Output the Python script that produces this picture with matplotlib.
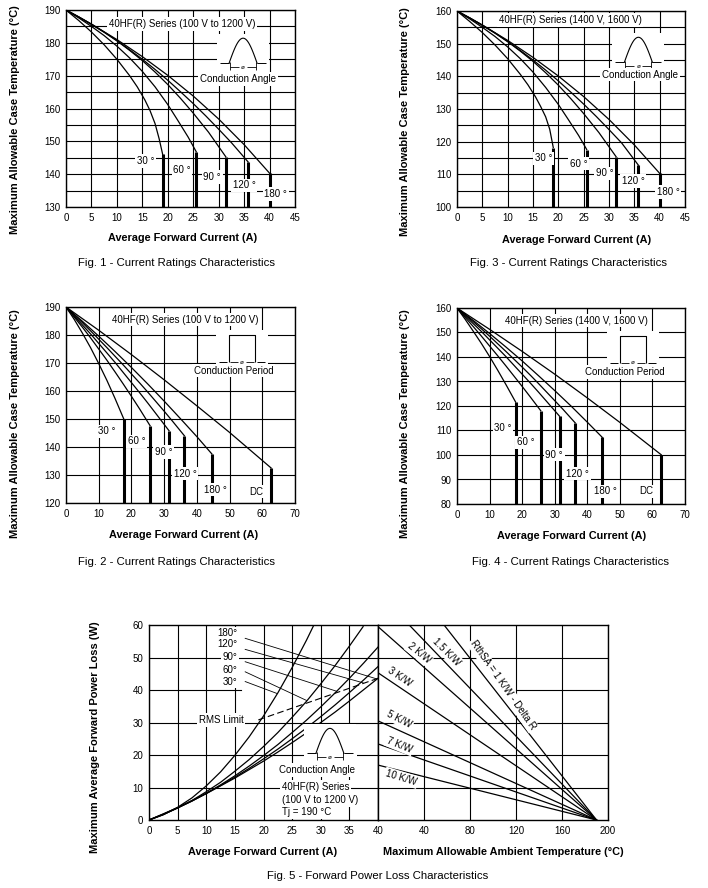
import numpy as np
import matplotlib.pyplot as plt
from matplotlib.patches import Rectangle

plt.rcParams['font.family'] = ['Liberation Sans', 'DejaVu Sans']

W, H = 708, 888

# ---- Fig. 1 : 40HF(R) 100 V to 1200 V, conduction angle ----
angle_names = ['30 °', '60 °', '90 °', '120 °', '180 °']
fig1_current = [
    [0, 2.5, 5, 7.5, 10, 12.5, 14, 15.5, 16.5, 17.5, 18.3, 19.0],
    [0, 2.5, 5, 7.5, 10, 12.5, 15, 17.5, 20, 22, 24, 25.6],
    [0, 2.5, 5, 7.5, 10, 12.5, 15, 17.5, 20, 22.5, 25, 28, 31.4],
    [0, 2.5, 5, 7.5, 10, 12.5, 15, 17.5, 20, 22.5, 25, 27.5, 30, 32.5, 35.8],
    [0, 5, 10, 15, 20, 25, 30, 35, 40],
]
fig1_temp = [
    [190, 186.8, 183.3, 179.4, 175, 170, 166.6, 162.6, 159.4, 155.4, 150.8, 146.0],
    [190, 187.6, 185, 182.2, 179, 175.4, 171.3, 166.6, 161.2, 156.3, 151.3, 146.8],
    [190, 187.9, 185.6, 183.2, 180.6, 177.7, 174.6, 171.1, 167.3, 163.1, 158.6, 152.8, 145.3],
    [190, 187.9, 185.7, 183.3, 180.7, 177.9, 175, 171.9, 168.6, 165.1, 161.5, 157.7, 153.7, 149.6, 143.7],
    [190, 185.7, 181, 175.8, 170.1, 163.8, 156.8, 149, 140.3],
]

# ---- Fig. 3 : 40HF(R) 1400 V, 1600 V, conduction angle ----
fig3_current = fig1_current
fig3_temp = [
    [160, 156.8, 153.4, 149.6, 145.4, 140.6, 137.4, 133.7, 130.8, 127.6, 123.8, 118.2],
    [160, 157.6, 155, 152.2, 149, 145.4, 141.3, 136.6, 131.4, 126.7, 121.9, 117.6],
    [160, 157.9, 155.6, 153.2, 150.6, 147.7, 144.6, 141.1, 137.3, 133.1, 128.6, 122.8, 115.4],
    [160, 157.9, 155.7, 153.3, 150.7, 147.9, 145, 141.9, 138.6, 135.1, 131.5, 127.7, 123.7, 119.6, 112.8],
    [160, 155.7, 151, 145.8, 140.1, 133.8, 126.8, 119, 110.3],
]

# ---- Fig. 2 : 40HF(R) 100 V to 1200 V, conduction period ----
period_names = ['30 °', '60 °', '90 °', '120 °', '180 °', 'DC']
fig2_current = [
    [0, 2.5, 5, 7.5, 10, 12.5, 15, 17.7],
    [0, 2.5, 5, 7.5, 10, 12.5, 15, 17.5, 20, 22.5, 25.7],
    [0, 2.5, 5, 7.5, 10, 12.5, 15, 17.5, 20, 22.5, 25, 27.5, 31.5],
    [0, 2.5, 5, 7.5, 10, 12.5, 15, 17.5, 20, 22.5, 25, 27.5, 30, 32.5, 36.2],
    [0, 5, 10, 15, 20, 25, 30, 35, 40, 44.6],
    [0, 10, 20, 30, 40, 50, 62.7],
]
fig2_temp = [
    [190, 185.6, 180.7, 175.5, 169.8, 163.8, 157.3, 149.9],
    [190, 186.4, 182.8, 179.0, 175.0, 171.0, 166.8, 162.5, 158.1, 153.6, 147.6],
    [190, 186.8, 183.6, 180.4, 177.0, 173.6, 170.2, 166.6, 163.0, 159.4, 155.7, 151.9, 145.8],
    [190, 187.2, 184.4, 181.5, 178.5, 175.5, 172.4, 169.3, 166.1, 162.9, 159.6, 156.2, 152.8, 149.3, 144.0],
    [190, 184.9, 179.6, 174.1, 168.4, 162.5, 156.4, 150.1, 143.7, 137.5],
    [190, 181.7, 173.0, 164.0, 154.7, 145.2, 132.5],
]

# ---- Fig. 4 : 40HF(R) 1400 V, 1600 V, conduction period ----
fig4_current = [
    [0, 2.5, 5, 7.5, 10, 12.5, 15, 18.0],
    [0, 2.5, 5, 7.5, 10, 12.5, 15, 17.5, 20, 22.5, 25.7],
    [0, 2.5, 5, 7.5, 10, 12.5, 15, 17.5, 20, 22.5, 25, 27.5, 31.5],
    [0, 2.5, 5, 7.5, 10, 12.5, 15, 17.5, 20, 22.5, 25, 27.5, 30, 32.5, 36.3],
    [0, 5, 10, 15, 20, 25, 30, 35, 40, 44.6],
    [0, 10, 20, 30, 40, 50, 62.7],
]
fig4_temp = [
    [160, 155.4, 150.5, 145.5, 140.2, 134.6, 128.8, 121.6],
    [160, 156.2, 152.4, 148.5, 144.5, 140.5, 136.4, 132.2, 128.0, 123.7, 118.1],
    [160, 156.8, 153.6, 150.4, 147.0, 143.6, 140.2, 136.6, 133.0, 129.4, 125.7, 121.9, 115.8],
    [160, 157.2, 154.4, 151.5, 148.5, 145.4, 142.3, 139.1, 135.9, 132.6, 129.2, 125.7, 122.2, 118.7, 113.1],
    [160, 154.9, 149.6, 144.1, 138.4, 132.4, 126.3, 120.0, 113.4, 107.2],
    [160, 151.3, 142.3, 133.0, 123.3, 113.3, 100.1],
]

# ---- Fig. 5 : forward power loss ----
loss_names = ['180°', '120°', '90°', '60°', '30°']
loss_current = [
    [0, 2.5, 5, 7.5, 10, 12.5, 15, 17.5, 20, 22.5, 25, 27.5, 28.8],
    [0, 2.5, 5, 7.5, 10, 12.5, 15, 17.5, 20, 22.5, 25, 27.5, 30, 32.5, 35, 37.4],
    [0, 2.5, 5, 7.5, 10, 12.5, 15, 17.5, 20, 22.5, 25, 27.5, 30, 32.5, 35, 37.5, 40],
    [0, 2.5, 5, 7.5, 10, 12.5, 15, 17.5, 20, 22.5, 25, 27.5, 30, 32.5, 35, 37.5, 40],
    [0, 2.5, 5, 7.5, 10, 12.5, 15, 17.5, 20, 22.5, 25, 27.5, 30, 32.5, 35, 37.5, 40],
]
loss_power = [
    [0, 1.6, 3.9, 6.8, 10.5, 14.8, 19.9, 25.6, 32.0, 39.1, 46.9, 55.3, 60],
    [0, 1.7, 3.7, 6.0, 8.7, 11.6, 15.0, 18.6, 22.6, 26.9, 31.6, 36.5, 41.9, 47.5, 53.5, 59.5],
    [0, 1.7, 3.7, 5.8, 8.2, 10.8, 13.6, 16.6, 19.8, 23.2, 26.9, 30.7, 34.8, 39.1, 43.6, 48.3, 53.2],
    [0, 1.8, 3.8, 5.9, 8.2, 10.6, 13.2, 15.9, 18.8, 21.8, 25.0, 28.3, 31.8, 35.4, 39.2, 43.1, 47.2],
    [0, 1.9, 3.8, 5.9, 8.1, 10.5, 12.9, 15.5, 18.1, 20.9, 23.8, 26.8, 30.0, 33.2, 36.6, 40.1, 43.6],
]
# leader lines from the angle labels to their curves (label end, curve end)
leader_current = [[16.8, 39.8], [16.8, 37.4], [16.8, 32.8], [16.8, 27.5], [16.8, 22.4]]
leader_power = [[55.9, 43.4], [52.5, 42.2], [48.7, 39.6], [45.6, 36.8], [42.6, 38.9]]
rms_current = [19.1, 40.0]
rms_power = [30.8, 43.6]
sink_names = ['RthSA = 1 K/W - Delta R', '1.5 K/W', '2 K/W', '3 K/W', '5 K/W', '7 K/W', '10 K/W']
sink_power_at_0 = [86, 70, 59.5, 45.3, 30.5, 23.4, 16.9]
sink_tj = 190


def px_axes(fig, x0, y0, x1, y1):
    return fig.add_axes([x0 / W, 1 - y1 / H, (x1 - x0) / W, (y1 - y0) / H])


def px_scale(ax):
    pos = ax.get_position()
    x0, x1 = ax.get_xlim()
    y0, y1 = ax.get_ylim()
    return (x1 - x0) / (pos.width * W), (y1 - y0) / (pos.height * H)


def style_axes(ax, xlim, ylim, xticks, yticks):
    ax.set_xlim(*xlim)
    ax.set_ylim(*ylim)
    ax.set_xticks(xticks)
    ax.set_yticks(yticks)
    ax.tick_params(which='both', length=0, labelsize=7, pad=4)
    ax.grid(True, color='black', lw=0.8)
    ax.set_axisbelow(True)
    for s in ax.spines.values():
        s.set_linewidth(1.0)


def note(ax, x, y, s, size=7, **kw):
    kw.setdefault('ha', 'center')
    ax.text(x, y, s, fontsize=size, va='center', zorder=5,
            bbox=dict(fc='white', ec='none', pad=1.2), **kw)


def seg(ax, sx, sy, cx, cy, xs, ys, lw=0.7):
    ax.plot([cx + v * sx for v in xs], [cy + v * sy for v in ys],
            color='black', lw=lw, zorder=5, solid_capstyle='butt')


def sine_icon(ax, cx, cy):
    # cx, cy : middle of the baseline
    sx, sy = px_scale(ax)
    ax.add_patch(Rectangle((cx - 26 * sx, cy - 9 * sy), 52 * sx, 38 * sy,
                           fc='white', ec='none', zorder=4))
    t = np.linspace(0, np.pi, 60)
    ax.plot(cx + (-14 + 28 * t / np.pi) * sx, cy + 25 * np.sin(t) * sy,
            color='black', lw=0.8, zorder=5)
    seg(ax, sx, sy, cx, cy, [-23, -14], [0, 0])
    seg(ax, sx, sy, cx, cy, [14, 23], [0, 0])
    seg(ax, sx, sy, cx, cy, [-13, -4], [-4, -4], lw=0.6)
    seg(ax, sx, sy, cx, cy, [4, 13], [-4, -4], lw=0.6)
    seg(ax, sx, sy, cx, cy, [-13, -13], [1, -7], lw=0.6)
    seg(ax, sx, sy, cx, cy, [13, 13], [1, -7], lw=0.6)
    ax.text(cx, cy - 4 * sy, 'ø', fontsize=4.5, ha='center', va='center', zorder=6)


def pulse_icon(ax, cx, cy):
    sx, sy = px_scale(ax)
    ax.add_patch(Rectangle((cx - 26 * sx, cy - 6 * sy), 52 * sx, 38 * sy,
                           fc='white', ec='none', zorder=4))
    seg(ax, sx, sy, cx, cy, [-13, -13, 13, 13], [0, 27, 27, 0], lw=0.8)
    seg(ax, sx, sy, cx, cy, [-23, -15], [0, 0])
    seg(ax, sx, sy, cx, cy, [15, 23], [0, 0])
    seg(ax, sx, sy, cx, cy, [-12, -4], [0, 0], lw=0.6)
    seg(ax, sx, sy, cx, cy, [4, 12], [0, 0], lw=0.6)
    ax.text(cx, cy, 'ø', fontsize=4.5, ha='center', va='center', zorder=6)


def rating_chart(ax, currents, temps, bottom):
    for i_vals, t_vals in zip(currents, temps):
        ax.plot(i_vals, t_vals, color='black', lw=0.9, zorder=3)
        ax.plot([i_vals[-1], i_vals[-1]], [bottom, t_vals[-1]], color='black',
                lw=2.2, solid_capstyle='butt', zorder=3)


def fig_text(x, y, s, size=8.2, **kw):
    fig.text(x / W, 1 - y / H, s, fontsize=size, ha='center', va='center', **kw)


fig = plt.figure(figsize=(W / 100, H / 100), dpi=100)

# Fig. 1
ax1 = px_axes(fig, 66, 10, 295, 207)
style_axes(ax1, (0, 45), (130, 190), range(0, 46, 5), range(130, 191, 10))
ax1.set_yticks(range(135, 190, 10), minor=True)
ax1.grid(True, which='minor', axis='y', color='black', lw=0.8)
rating_chart(ax1, fig1_current, fig1_temp, 130)
for s, (x, y) in zip(angle_names, [(15.6, 144), (22.8, 141.2), (28.7, 139.1), (35, 136.6), (41.2, 134)]):
    note(ax1, x, y, s)
note(ax1, 22.8, 185.7, '40HF(R) Series (100 V to 1200 V)')
sine_icon(ax1, 34.8, 173.8)
note(ax1, 33.8, 169, 'Conduction Angle')

# Fig. 3
ax3 = px_axes(fig, 457, 11, 685, 207)
style_axes(ax3, (0, 45), (100, 160), range(0, 46, 5), range(100, 161, 10))
ax3.set_yticks(range(105, 160, 10), minor=True)
ax3.grid(True, which='minor', axis='y', color='black', lw=0.8)
rating_chart(ax3, fig3_current, fig3_temp, 100)
for s, (x, y) in zip(angle_names, [(17.1, 114.9), (24, 113.3), (29.2, 110.3), (34.8, 108), (41.7, 104.6)]):
    note(ax3, x, y, s)
note(ax3, 22.3, 157.2, '40HF(R) Series (1400 V, 1600 V)')
sine_icon(ax3, 35.8, 144.3)
note(ax3, 36.1, 140.5, 'Conduction Angle')

# Fig. 2
ax2 = px_axes(fig, 66, 307, 295, 503)
style_axes(ax2, (0, 70), (120, 190), range(0, 71, 10), range(120, 191, 10))
rating_chart(ax2, fig2_current, fig2_temp, 120)
for s, (x, y) in zip(period_names, [(12.6, 145.6), (21.6, 142), (29.8, 138.2), (36.4, 130.5), (45.6, 124.8), (58.3, 124)]):
    note(ax2, x, y, s)
note(ax2, 36.4, 185.5, '40HF(R) Series (100 V to 1200 V)')
pulse_icon(ax2, 53.7, 170.2)
note(ax2, 51.2, 167.3, 'Conduction Period')

# Fig. 4
ax4 = px_axes(fig, 457, 308, 685, 504)
style_axes(ax4, (0, 70), (80, 160), range(0, 71, 10), range(80, 161, 10))
rating_chart(ax4, fig4_current, fig4_temp, 80)
for s, (x, y) in zip(period_names, [(14.1, 111), (21, 105.2), (29.8, 100.1), (37, 92.4), (45.6, 85.2), (58.1, 85.2)]):
    note(ax4, x, y, s)
note(ax4, 36.6, 154.8, '40HF(R) Series (1400 V, 1600 V)')
pulse_icon(ax4, 54, 137.6)
note(ax4, 51.5, 133.9, 'Conduction Period')

# Fig. 5 left : power loss vs current
ax5 = px_axes(fig, 149, 625, 378, 820)
style_axes(ax5, (0, 40), (0, 60), range(0, 41, 5), range(0, 61, 10))
ax5.grid(False, axis='y')
for p in (10, 20, 30, 50):
    ax5.axhline(p, color='black', lw=0.8, zorder=1)
ax5.plot([0, 16], [40, 40], color='black', lw=0.8, zorder=1)
for i_vals, p_vals in zip(loss_current, loss_power):
    ax5.plot(i_vals, p_vals, color='black', lw=0.9, zorder=3)
for i_vals, p_vals in zip(leader_current, leader_power):
    ax5.plot(i_vals, p_vals, color='black', lw=0.6, zorder=3)
ax5.plot(rms_current, rms_power, color='black', lw=0.8, dashes=(6, 3), zorder=3)
note(ax5, 12.6, 30.8, 'RMS Limit')
for s, y in zip(loss_names, [57.4, 54.2, 50.2, 46.2, 42.6]):
    note(ax5, 15.4, y, s, ha='right')
ax5.add_patch(Rectangle((27.3, 17.5), 9, 11, fc='white', ec='none', zorder=4))
sine_icon(ax5, 31.6, 20.5)
note(ax5, 22.7, 15.4, 'Conduction Angle', ha='left')
note(ax5, 23.2, 10.2, '40HF(R) Series', ha='left')
note(ax5, 23.2, 6.2, '(100 V to 1200 V)', ha='left')
note(ax5, 23.2, 2.4, 'Tj = 190 °C', ha='left')

# Fig. 5 right : heatsink lines vs ambient temperature
ax6 = px_axes(fig, 378, 625, 608, 820)
style_axes(ax6, (0, 200), (0, 60), [40, 80, 120, 160, 200], range(0, 61, 10))
ax6.tick_params(labelleft=False)
ax6.grid(False, axis='y')
for p in (10, 20, 30, 50):
    ax6.axhline(p, color='black', lw=0.8, zorder=1)
ax6.plot([120, 200], [40, 40], color='black', lw=0.8, zorder=1)
for p0 in sink_power_at_0:
    ax6.plot([0, sink_tj], [p0, 0], color='black', lw=0.9, zorder=3)
sink_label_pos = [(108.5, 41.5, -55), (59.5, 51.8, -45), (35.6, 51.3, -39),
                  (19.3, 44.1, -34), (18.7, 31, -27), (18.7, 23.1, -22), (20.2, 13, -17)]
for s, (x, y, r) in zip(sink_names, sink_label_pos):
    ax6.text(x, y, s, fontsize=7, ha='center', va='center', rotation=r,
             rotation_mode='anchor', zorder=5,
             bbox=dict(fc='white', ec='none', pad=1.0))

# axis titles and captions
ylab = 'Maximum Allowable Case Temperature (°C)'
fig_text(15, 120, ylab, size=8.0, rotation=90, weight='bold')
fig_text(405, 122, ylab, size=8.0, rotation=90, weight='bold')
fig_text(15, 424, ylab, size=8.0, rotation=90, weight='bold')
fig_text(405, 424, ylab, size=8.0, rotation=90, weight='bold')
fig_text(95, 737, 'Maximum Average Forward Power Loss (W)', size=8.0, rotation=90, weight='bold')
xlab = 'Average Forward Current (A)'
fig_text(183, 238, xlab, size=7.8, weight='bold')
fig_text(577, 240, xlab, size=7.8, weight='bold')
fig_text(184, 535, xlab, size=7.8, weight='bold')
fig_text(572, 536, xlab, size=7.8, weight='bold')
fig_text(263, 852, xlab, size=7.8, weight='bold')
fig_text(503, 852, 'Maximum Allowable Ambient Temperature (°C)', size=7.8, weight='bold')
fig_text(177, 263, 'Fig. 1 - Current Ratings Characteristics')
fig_text(569, 263, 'Fig. 3 - Current Ratings Characteristics')
fig_text(177, 562, 'Fig. 2 - Current Ratings Characteristics')
fig_text(570, 562, 'Fig. 4 - Current Ratings Characteristics')
fig_text(378, 876, 'Fig. 5 - Forward Power Loss Characteristics')

fig.savefig('out.png', dpi=100)
